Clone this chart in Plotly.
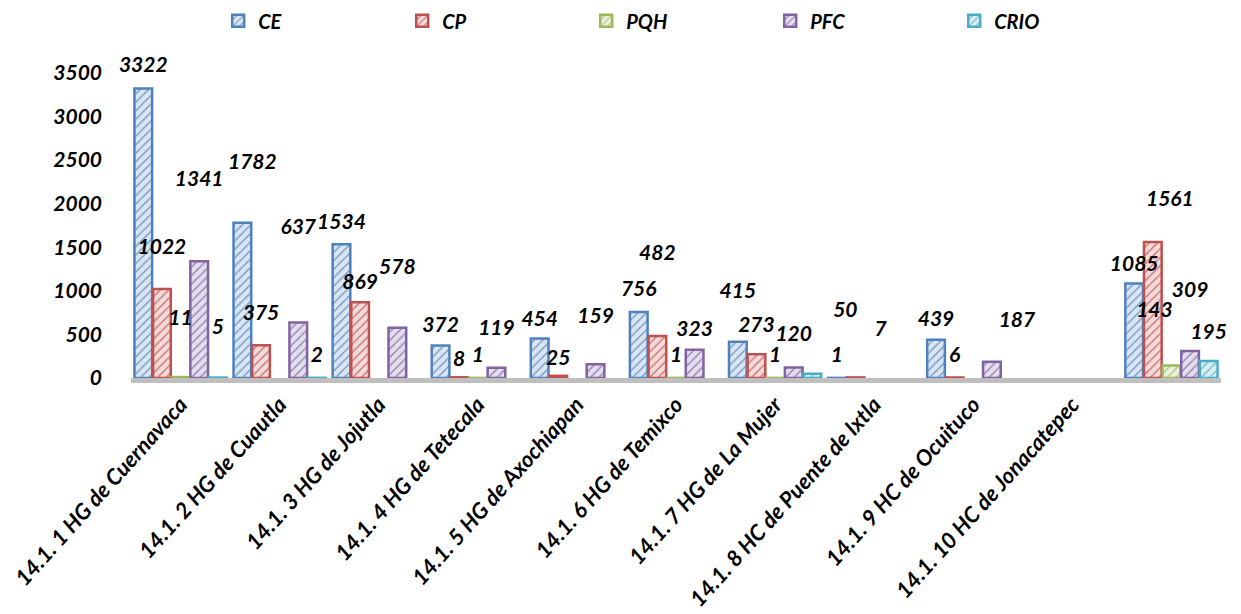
import plotly.graph_objects as go

categories = [
    "14.1. 1 HG de Cuernavaca",
    "14.1. 2 HG de Cuautla",
    "14.1. 3 HG de Jojutla",
    "14.1. 4 HG de Tetecala",
    "14.1. 5 HG de Axochiapan",
    "14.1. 6 HG de Temixco",
    "14.1. 7 HG de La Mujer",
    "14.1. 8 HC de Puente de Ixtla",
    "14.1. 9 HC de Ocuituco",
    "14.1. 10 HC de Jonacatepec",
    " ",
]

CE = [3322, 1782, 1534, 372, 454, 756, 415, 1, 439, None, 1085]
CP = [1022, 375, 869, 8, 25, 482, 273, 7, 6, None, 1561]
PQH = [11, None, None, 1, None, 1, 1, None, None, None, 143]
PFC = [1341, 637, 578, 119, 159, 323, 120, None, 187, None, 309]
CRIO = [5, 2, None, None, None, None, 50, None, None, None, 195]

series = [
    ("CE", CE, "#4F81BD", "#DCE6F2"),
    ("CP", CP, "#C0504D", "#F2DCDB"),
    ("PQH", PQH, "#9BBB59", "#EBF1DE"),
    ("PFC", PFC, "#8064A2", "#E4DFEC"),
    ("CRIO", CRIO, "#4BACC6", "#DAEEF3"),
]

# label placement styling (pixels): height of each value label's centre above its bar top,
# and horizontal nudges, mimicking the floating labels of the original 3-D chart
LABEL_LIFT = [
    [25, 55, 24, 23, 22, 25, 47, 25, 23, 22, 22],
    [40, 32, 23, 21, 21, 73, 30, 45, 24, 22, 41],
    [54, 25, 25, 25, 25, 25, 25, 25, 25, 25, 51],
    [72, 83, 55, 38, 45, 23, 33, 25, 40, 22, 55],
    [47, 25, 25, 25, 25, 25, 57, 25, 25, 25, 30],
]
LABEL_DX = {(4, 6): 33, (1, 7): 25, (3, 8): 25, (1, 10): 17, (2, 10): -17, (0, 1): 10}

FONT = "Lato"
BARGAP = 0.06
GROUPGAP = 0.05
ML, MR, MT, MB = 123, 28, 65, 244
W, H = 1241, 614
n = len(series)
ncat = len(categories)
slot = (1 - BARGAP) / n
px_per_cat = (W - ML - MR) / ncat

fig = go.Figure()
for name, vals, col, light in series:
    fig.add_trace(go.Bar(
        name=name,
        x=categories,
        y=vals,
        marker=dict(
            color=light,
            line=dict(color=col, width=2.5),
            pattern=dict(shape="/", fgcolor=col, bgcolor=light, size=6, solidity=0.25, fgopacity=0.7),
        ),
        hoverinfo="x+y+name",
    ))

# value labels drawn above all bars, on an overlaid numeric axis
for k, (name, vals, col, light) in enumerate(series):
    xs = [i - (1 - BARGAP) / 2 + slot * (k + 0.5) + LABEL_DX.get((k, i), 0) / px_per_cat
          for i in range(ncat)]
    sizes = [max(1, 2 * (lift - 17)) for lift in LABEL_LIFT[k]]
    fig.add_trace(go.Scatter(
        x=xs, y=vals, xaxis="x2",
        mode="markers+text",
        text=[None if v is None else str(v) for v in vals],
        textposition="top center",
        textfont=dict(family=FONT, size=21, color="black", weight="bold", style="italic"),
        marker=dict(size=sizes, opacity=0),
        showlegend=False, hoverinfo="skip", cliponaxis=False,
    ))

fig.update_layout(
    width=W, height=H,
    paper_bgcolor="white", plot_bgcolor="white",
    barmode="group", bargap=BARGAP, bargroupgap=GROUPGAP,
    margin=dict(l=ML, r=MR, t=MT, b=MB, autoexpand=False),
    font=dict(family=FONT, size=18, color="black"),
    legend=dict(
        orientation="h", x=0.08, xanchor="left", y=1.235, yanchor="top",
        entrywidth=139, entrywidthmode="pixels",
        font=dict(family=FONT, size=20, color="black", weight="bold", style="italic"),
        itemwidth=30,
    ),
    showlegend=True,
    xaxis2=dict(overlaying="x", range=[-0.5, ncat - 0.5], visible=False, fixedrange=True),
)
fig.layout.xaxis.update(
    tickangle=-48,
    tickfont=dict(family=FONT, size=22, color="black", weight="bold", style="italic"),
    showline=True, linecolor="#BFBFBF", linewidth=5, showgrid=False, ticks="",
)
fig.update_yaxes(
    range=[0, 3500], dtick=500,
    tickfont=dict(family=FONT, size=21, color="black", weight="bold", style="italic"),
    showgrid=False, zeroline=False, showline=False,
    ticklabelstandoff=28,
)

fig.write_html("out.html")
